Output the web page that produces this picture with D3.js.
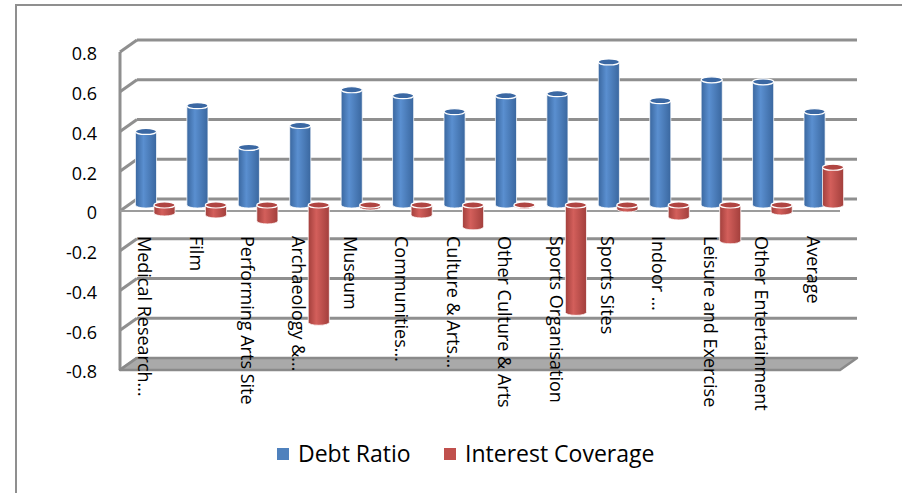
<!DOCTYPE html>
<html>
<head>
<meta charset="utf-8">
<script src="https://cdn.jsdelivr.net/npm/d3@7"></script>
<style>
  html, body { margin: 0; padding: 0; background: #fff; }
  svg { display: block; font-family: "Open Sans", "Noto Sans", sans-serif; }
</style>
</head>
<body>
<script>
// Sector figures: debt ratio and interest coverage
const categories = [
  "Medical Research…", "Film", "Performing Arts Site", "Archaeology &…",
  "Museum", "Communities…", "Culture & Arts…", "Other Culture & Arts",
  "Sports Organisation", "Sports Sites", "Indoor …", "Leisure and Exercise",
  "Other Entertainment", "Average"
];
const seriesNames = ["Debt Ratio", "Interest Coverage"];
const debtRatio = [0.37, 0.50, 0.29, 0.40, 0.58, 0.55, 0.47, 0.55, 0.56, 0.72, 0.525, 0.63, 0.62, 0.47];
const interestCoverage = [-0.04, -0.05, -0.08, -0.59, -0.01, -0.05, -0.11, -0.005, -0.54, -0.02, -0.06, -0.18, -0.035, 0.19];
const yTicks = [-0.8, -0.6, -0.4, -0.2, 0, 0.2, 0.4, 0.6, 0.8];
const seriesColors = ["#4F81BD", "#C0504D"];

const W = 902, H = 493;
const svg = d3.select("body").append("svg").attr("width", W).attr("height", H);

// 3-D projection: the back wall sits up and to the right of the front edge
const depth = { dx: 17, dy: -12 };
const yFront = d3.scaleLinear().domain([-0.8, 0.8]).range([370, 52]);
const yBack = v => yFront(v) + depth.dy;
const yBar = v => yFront(v) + depth.dy / 2;
const xFront = d3.scaleBand().domain(categories).range([120, 840]);
const bw = xFront.bandwidth();
const xSeries = d3.scaleBand().domain(seriesNames).range([0.16 * bw, 0.88 * bw]);
const radius = xSeries.bandwidth() * 0.57;
const ry = 3;

const gridColor = "#8f8f8f";

// Gradients that give the columns their cylindrical shading
const defs = svg.append("defs");
const shades = [
  { dark: "#3a679f", light: "#5a8fd0", cap: "#3b68a3" },
  { dark: "#a23f3c", light: "#d35f5b", cap: "#b04542" }
];
shades.forEach((s, i) => {
  const g = defs.append("linearGradient").attr("id", "cyl" + i)
    .attr("x1", 0).attr("x2", 1).attr("y1", 0).attr("y2", 0);
  g.append("stop").attr("offset", "0%").attr("stop-color", s.dark);
  g.append("stop").attr("offset", "38%").attr("stop-color", s.light);
  g.append("stop").attr("offset", "100%").attr("stop-color", s.dark);
});

// Outer chart frame
svg.append("rect")
  .attr("x", 16).attr("y", 5).attr("width", 905).attr("height", 492)
  .attr("fill", "none").attr("stroke", "#8f8f8f").attr("stroke-width", 2);

const walls = svg.append("g");
const x0 = xFront.range()[0], x1 = xFront.range()[1];

// Back-wall gridlines
walls.selectAll("line.grid").data(yTicks.filter(v => v > -0.8)).join("line")
  .attr("class", "grid")
  .attr("x1", x0 + depth.dx).attr("x2", x1 + depth.dx)
  .attr("y1", d => yBack(d)).attr("y2", d => yBack(d))
  .attr("stroke", gridColor).attr("stroke-width", 3);

// Side wall: front edge and the diagonal tick joints
walls.append("line")
  .attr("x1", x0).attr("x2", x0)
  .attr("y1", yFront(0.8)).attr("y2", yFront(-0.8))
  .attr("stroke", gridColor).attr("stroke-width", 3);
walls.selectAll("line.diag").data(yTicks).join("line")
  .attr("class", "diag")
  .attr("x1", x0).attr("y1", d => yFront(d))
  .attr("x2", x0 + depth.dx).attr("y2", d => yBack(d))
  .attr("stroke", gridColor).attr("stroke-width", 3);

// Floor slab at the axis minimum
const fmin = -0.8;
walls.append("path")
  .attr("d", d3.line()([
    [x0 + depth.dx, yBack(fmin)], [x1 + depth.dx, yBack(fmin)],
    [x1, yFront(fmin)], [x0, yFront(fmin)]
  ]) + "Z")
  .attr("fill", "#a9a9a9").attr("stroke", "#8a8a8a").attr("stroke-width", 2.5)
  .attr("stroke-linejoin", "round");

// Front zero line
walls.append("line")
  .attr("x1", x0).attr("x2", x1)
  .attr("y1", yFront(0)).attr("y2", yFront(0))
  .attr("stroke", "#9c9c9c").attr("stroke-width", 2);

// Y tick labels
svg.append("g").selectAll("text").data(yTicks).join("text")
  .attr("x", 97).attr("y", d => yFront(d) + 2)
  .attr("dy", "0.35em").attr("text-anchor", "end")
  .attr("font-size", 18).attr("fill", "#000")
  .text(d => String(d));

// Columns
const rows = [];
categories.forEach((c, i) => {
  [debtRatio[i], interestCoverage[i]].forEach((v, s) => {
    rows.push({ c, s, v, cx: xFront(c) + depth.dx / 2 + xSeries(seriesNames[s]) + xSeries.bandwidth() / 2 });
  });
});

const bars = svg.append("g").selectAll("g").data(rows).join("g");
bars.each(function (d) {
  const g = d3.select(this);
  const yTop = yBar(Math.max(d.v, 0));
  const yBottom = yBar(Math.min(d.v, 0));
  // body
  g.append("path")
    .attr("d", `M${d.cx - radius},${yTop} L${d.cx - radius},${yBottom} ` +
      `A${radius},${ry} 0 0 0 ${d.cx + radius},${yBottom} L${d.cx + radius},${yTop} Z`)
    .attr("fill", `url(#cyl${d.s})`)
    .attr("stroke", "#ffffff").attr("stroke-opacity", 0.75).attr("stroke-width", 1);
  // top cap
  g.append("ellipse")
    .attr("cx", d.cx).attr("cy", yTop).attr("rx", radius).attr("ry", ry)
    .attr("fill", shades[d.s].cap)
    .attr("stroke", "#ffffff").attr("stroke-width", 1.2);
});

// Category labels, rotated to read downwards
svg.append("g").selectAll("text").data(categories).join("text")
  .attr("transform", (d, i) => {
    const x = xFront(d) + depth.dx / 2 + xSeries(seriesNames[0]) + xSeries.bandwidth() / 2 - 1.5;
    return `translate(${x},236) rotate(90)`;
  })
  .attr("dy", "0.35em").attr("font-size", 18).attr("fill", "#000")
  .text(d => d);

// Legend
const legend = svg.append("g");
const legendItems = [{ name: seriesNames[0], x: 277 }, { name: seriesNames[1], x: 444 }];
legendItems.forEach((it, i) => {
  legend.append("rect").attr("x", it.x).attr("y", 448).attr("width", 12).attr("height", 12)
    .attr("fill", seriesColors[i]);
  legend.append("text").attr("x", it.x + 21).attr("y", 454)
    .attr("dy", "0.35em").attr("font-size", 23).attr("fill", "#000").text(it.name);
});
</script>
</body>
</html>
